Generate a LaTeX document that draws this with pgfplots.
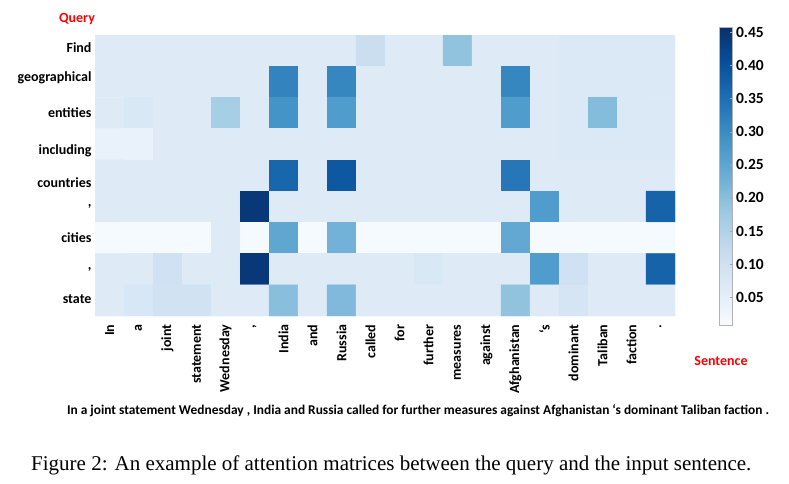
\documentclass[border=0pt]{standalone}
\usepackage{pgfplots}
\pgfplotsset{compat=1.18}
\usepackage{fontspec}
\setmainfont{Carlito}
\newfontfamily\capfont{Liberation Serif}
\pgfplotsset{colormap={blues}{rgb255=(247,251,255) rgb255=(222,235,247) rgb255=(198,219,239) rgb255=(158,202,225) rgb255=(107,174,214) rgb255=(66,146,198) rgb255=(33,113,181) rgb255=(8,81,156) rgb255=(8,48,107)}}
\begin{document}
\begin{tikzpicture}
\useasboundingbox (0,0) rectangle (789pt,483pt);
\begin{axis}[
  at={(95pt,167pt)}, anchor=south west,
  width=580pt, height=281pt, scale only axis,
  xmin=-0.5, xmax=19.5, ymin=-0.5, ymax=8.5, y dir=reverse,
  axis line style={draw=none}, major tick length=0pt,
  xtick={0,...,19},
  xticklabels={In,a,joint,statement,Wednesday,{,},India,and,Russia,called,for,further,measures,against,Afghanistan,{‘s},dominant,Taliban,faction,{.}},
  xticklabel shift=5pt,
  x tick label style={rotate=90, anchor=east, font=\fontsize{14}{15}\selectfont\bfseries},
  ytick={-0.08,0.88,2,3.2,4.24,5,6,7,7.96},
  yticklabels={Find,geographical,entities,including,countries,{,},cities,{,},state},
  y tick label style={font=\fontsize{14}{15}\selectfont\bfseries},
  colormap name=blues, point meta min=0.008, point meta max=0.458,
  colorbar,
  colorbar style={
    at={(parent axis.north east)}, anchor=north west, xshift=36pt, yshift=8pt,
    width=13pt, height=298pt, scale only axis,
    ytick={0.05,0.10,0.15,0.20,0.25,0.30,0.35,0.40,0.45},
    ytick pos=right,
    yticklabel style={font=\fontsize{15.5}{16}\selectfont\bfseries,
      /pgf/number format/.cd, fixed, fixed zerofill, precision=2, assume math mode=true},
    axis line style={draw=gray!60, line width=0.8pt},
    major tick length=3pt, tick style={gray!70},
  },
]
\addplot[matrix plot*, mesh/cols=20, mesh/ordering=x varies, point meta=explicit]
table[row sep=\\, meta=v] {
x y v\\
0 0 0.065\\ 1 0 0.065\\ 2 0 0.065\\ 3 0 0.065\\ 4 0 0.065\\ 5 0 0.065\\ 6 0 0.065\\ 7 0 0.065\\ 8 0 0.065\\ 9 0 0.11\\
10 0 0.065\\ 11 0 0.065\\ 12 0 0.19\\ 13 0 0.065\\ 14 0 0.065\\ 15 0 0.065\\ 16 0 0.072\\ 17 0 0.072\\ 18 0 0.072\\ 19 0 0.072\\
0 1 0.065\\ 1 1 0.065\\ 2 1 0.065\\ 3 1 0.065\\ 4 1 0.065\\ 5 1 0.065\\ 6 1 0.315\\ 7 1 0.065\\ 8 1 0.31\\ 9 1 0.065\\
10 1 0.065\\ 11 1 0.065\\ 12 1 0.065\\ 13 1 0.065\\ 14 1 0.31\\ 15 1 0.065\\ 16 1 0.072\\ 17 1 0.072\\ 18 1 0.072\\ 19 1 0.072\\
0 2 0.065\\ 1 2 0.075\\ 2 2 0.065\\ 3 2 0.065\\ 4 2 0.165\\ 5 2 0.065\\ 6 2 0.285\\ 7 2 0.065\\ 8 2 0.27\\ 9 2 0.065\\
10 2 0.065\\ 11 2 0.065\\ 12 2 0.065\\ 13 2 0.065\\ 14 2 0.27\\ 15 2 0.065\\ 16 2 0.072\\ 17 2 0.205\\ 18 2 0.072\\ 19 2 0.072\\
0 3 0.04\\ 1 3 0.04\\ 2 3 0.065\\ 3 3 0.065\\ 4 3 0.065\\ 5 3 0.065\\ 6 3 0.065\\ 7 3 0.065\\ 8 3 0.065\\ 9 3 0.065\\
10 3 0.065\\ 11 3 0.065\\ 12 3 0.065\\ 13 3 0.065\\ 14 3 0.065\\ 15 3 0.065\\ 16 3 0.072\\ 17 3 0.072\\ 18 3 0.072\\ 19 3 0.072\\
0 4 0.065\\ 1 4 0.065\\ 2 4 0.065\\ 3 4 0.065\\ 4 4 0.065\\ 5 4 0.065\\ 6 4 0.365\\ 7 4 0.065\\ 8 4 0.39\\ 9 4 0.065\\
10 4 0.065\\ 11 4 0.065\\ 12 4 0.065\\ 13 4 0.065\\ 14 4 0.335\\ 15 4 0.065\\ 16 4 0.065\\ 17 4 0.065\\ 18 4 0.065\\ 19 4 0.065\\
0 5 0.065\\ 1 5 0.065\\ 2 5 0.065\\ 3 5 0.065\\ 4 5 0.065\\ 5 5 0.445\\ 6 5 0.065\\ 7 5 0.065\\ 8 5 0.065\\ 9 5 0.065\\
10 5 0.065\\ 11 5 0.065\\ 12 5 0.065\\ 13 5 0.065\\ 14 5 0.065\\ 15 5 0.27\\ 16 5 0.065\\ 17 5 0.065\\ 18 5 0.065\\ 19 5 0.37\\
0 6 0.012\\ 1 6 0.012\\ 2 6 0.012\\ 3 6 0.012\\ 4 6 0.065\\ 5 6 0.012\\ 6 6 0.25\\ 7 6 0.012\\ 8 6 0.225\\ 9 6 0.012\\
10 6 0.012\\ 11 6 0.012\\ 12 6 0.012\\ 13 6 0.012\\ 14 6 0.245\\ 15 6 0.012\\ 16 6 0.012\\ 17 6 0.012\\ 18 6 0.012\\ 19 6 0.012\\
0 7 0.065\\ 1 7 0.065\\ 2 7 0.10\\ 3 7 0.065\\ 4 7 0.065\\ 5 7 0.445\\ 6 7 0.065\\ 7 7 0.065\\ 8 7 0.065\\ 9 7 0.065\\
10 7 0.065\\ 11 7 0.075\\ 12 7 0.065\\ 13 7 0.065\\ 14 7 0.065\\ 15 7 0.27\\ 16 7 0.10\\ 17 7 0.065\\ 18 7 0.065\\ 19 7 0.37\\
0 8 0.065\\ 1 8 0.078\\ 2 8 0.095\\ 3 8 0.095\\ 4 8 0.065\\ 5 8 0.065\\ 6 8 0.20\\ 7 8 0.065\\ 8 8 0.21\\ 9 8 0.065\\
10 8 0.065\\ 11 8 0.065\\ 12 8 0.065\\ 13 8 0.065\\ 14 8 0.19\\ 15 8 0.065\\ 16 8 0.085\\ 17 8 0.065\\ 18 8 0.065\\ 19 8 0.065\\
};
\end{axis}
\node[text=red, font=\fontsize{14}{15}\selectfont\bfseries] at (77pt,464pt) {Query};
\node[text=red, font=\fontsize{14}{15}\selectfont\bfseries] at (721pt,122pt) {Sentence};
\node[font=\fontsize{13.4}{15}\selectfont\bfseries] at (418pt,72pt) {In a joint statement Wednesday , India and Russia called for further measures against Afghanistan ‘s dominant Taliban faction .};
\node[anchor=base west, inner sep=0pt, font=\capfont\fontsize{21}{24}\selectfont] at (31pt,13pt) {Figure 2: An example of attention matrices between the query and the input sentence.};
\end{tikzpicture}
\end{document}
